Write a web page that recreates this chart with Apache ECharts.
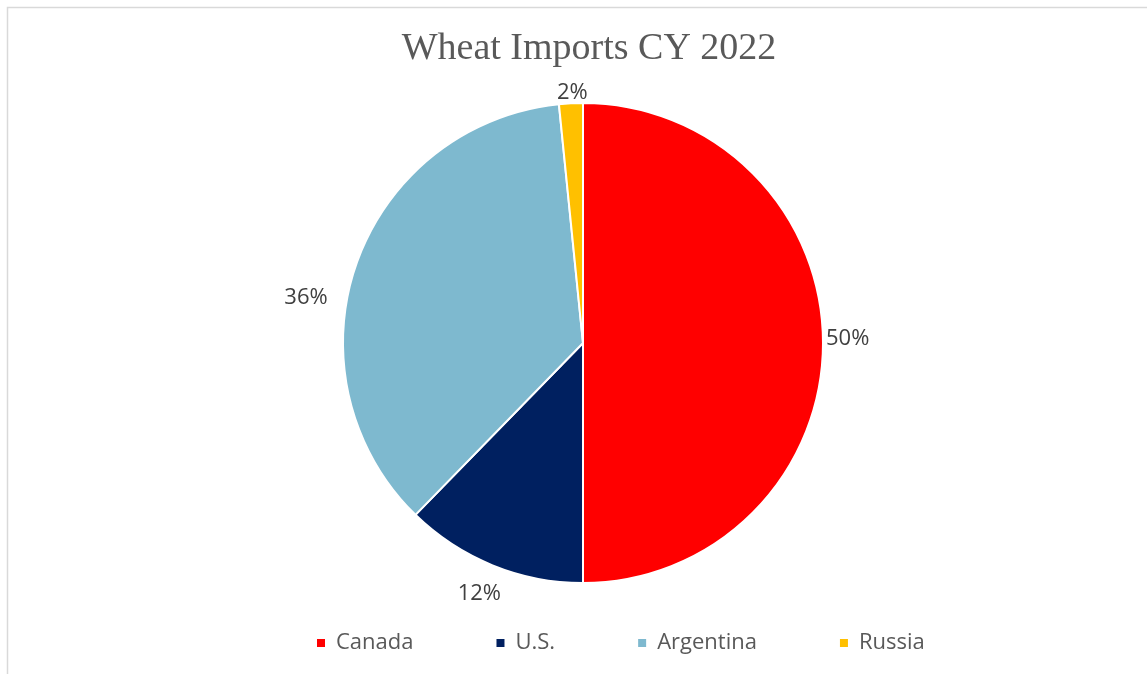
<!DOCTYPE html>
<html><head><meta charset="utf-8">
<script src="https://cdn.jsdelivr.net/npm/echarts@6/dist/echarts.min.js"></script>
<style>html,body{margin:0;padding:0;background:#fff}#c{width:1147px;height:674px}</style>
</head><body><div id="c"></div>
<script>
const categories = ['Canada', 'U.S.', 'Argentina', 'Russia'];
const values = [50.0, 12.3, 36.1, 1.6];
const colors = ['#FF0000', '#002060', '#7EB9CF', '#FFC000'];
const titleText = 'Wheat Imports CY 2022';
// label nudges (style only) to mimic the original label placement
const labelNudge = [[-6, -4], [15, 25], [-20, 35], [22, -7]];

const chart = echarts.init(document.getElementById('c'), null, {renderer: 'canvas'});
chart.setOption({
  animation: false,
  backgroundColor: '#fff',
  graphic: [{
    type: 'rect', shape: {x: 7.5, y: 7.5, width: 1160, height: 700},
    style: {fill: 'none', stroke: '#D9D9D9', lineWidth: 1.5}, silent: true
  }],
  title: {
    text: titleText, left: 584, textAlign: 'center', top: 25,
    textStyle: {fontFamily: 'Liberation Serif', fontSize: 38, fontWeight: 'normal', color: '#595959'}
  },
  legend: {
    data: categories, top: 627, left: 310, itemWidth: 10, itemHeight: 10, itemGap: 81,
    icon: 'rect',
    textStyle: {fontFamily: 'Open Sans', fontSize: 22, color: '#595959', padding: [0, 0, 0, 5]}
  },
  series: [{
    type: 'pie', center: [583, 343], radius: 240, startAngle: 90, clockwise: true,
    data: categories.map((c, i) => ({name: c, value: values[i], itemStyle: {color: colors[i]}})),
    itemStyle: {borderColor: '#fff', borderWidth: 2},
    label: {
      show: true, position: 'outside', formatter: p => Math.round(p.value) + '%',
      fontFamily: 'Open Sans', fontSize: 22, color: '#404040'
    },
    labelLine: {show: false, length: 4, length2: 0},
    labelLayout: p => ({dx: labelNudge[p.dataIndex][0], dy: labelNudge[p.dataIndex][1]}),
    emphasis: {disabled: true}
  }]
});
</script></body></html>
